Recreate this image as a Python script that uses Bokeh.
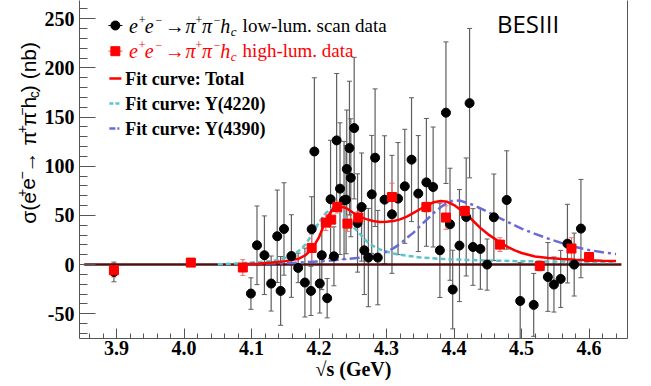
from math import pi
from bokeh.plotting import figure
from bokeh.layouts import row
from bokeh.models import (ColumnDataSource, Whisker, TeeHead, FixedTicker, LinearAxis,
                          Range1d, Label, NumeralTickFormatter)
from bokeh.embed import file_html
from bokeh.resources import INLINE

# ---------------- data ----------------
# low-luminosity scan data  (sqrt(s) in GeV, sigma in nb, symmetric error in nb)
scan_E = [3.896, 4.099, 4.108, 4.119, 4.129, 4.138, 4.143, 4.148, 4.159, 4.169,
          4.179, 4.188, 4.189, 4.193, 4.201, 4.204, 4.212, 4.217, 4.222, 4.226,
          4.231, 4.237, 4.240, 4.241, 4.245, 4.247, 4.252, 4.257, 4.263, 4.267,
          4.273, 4.278, 4.283, 4.287, 4.297, 4.308, 4.317, 4.327, 4.337, 4.347,
          4.359, 4.369, 4.379, 4.388, 4.394, 4.398, 4.408, 4.418, 4.423, 4.428,
          4.439, 4.449, 4.459, 4.478, 4.498, 4.518, 4.539, 4.548, 4.558, 4.568,
          4.578, 4.588]
scan_sigma = [-7.5, -29.5, 19.6, 9.5, -19.3, 28.8, -26.8, 36.2, 8.7, -3.4,
              -18.3, -26.8, 36.0, 115.0, -19.3, 9.5, -34.2, 66.4, 8.4, 126.3,
              77.2, 65.3, 66.0, 97.2, 118.5, 88.3, 138.8, 42.3, 58.5, 14.5,
              7.1, 71.4, 108.7, 7.1, 66.0, 51.1, 67.1, 79.6, 106.7, 72.2,
              83.6, 78.9, 14.5, 154.5, 41.0, -25.4, 19.3, 48.4, 164.2, 17.9,
              15.9, 0.0, 48.1, 65.7, -37.0, -41.0, -12.6, -20.3, -14.6, 21.3,
              0.0, 36.6]
scan_err = [10, 16, 40, 40, 28, 47, 35, 47, 42, 15,
            35, 25, 33, 75, 30, 35, 20, 60, 30, 68,
            67, 60, 55, 60, 68, 60, 72, 50, 55, 45,
            50, 60, 70, 48, 65, 60, 57, 58, 63, 59,
            65, 61, 48, 72, 57, 40, 57, 60, 76, 39,
            41, 26, 44, 50, 39, 32, 35, 28, 29, 40,
            32, 50]

# high-luminosity data
hl_E = [3.896, 4.010, 4.087, 4.189, 4.210, 4.218, 4.227, 4.242, 4.258, 4.308,
        4.359, 4.388, 4.416, 4.468, 4.527, 4.574, 4.600]
hl_sigma = [-5.8, 2.0, -3.0, 16.9, 42.7, 45.7, 58.5, 41.7, 47.8, 68.7,
            58.5, 47.8, 54.5, 20.3, -1.4, 16.3, 7.7]
hl_err = [7, 3, 8, 14, 8, 8, 6, 8, 6, 14, 5, 12, 5, 7, 5, 11, 3]

# fit curves
total_E = [4.09, 4.11, 4.13, 4.15, 4.17, 4.18, 4.19, 4.195, 4.20, 4.205, 4.21, 4.215,
           4.22, 4.225, 4.23, 4.24, 4.25, 4.26, 4.27, 4.28, 4.29, 4.30, 4.31, 4.32,
           4.33, 4.34, 4.35, 4.36, 4.37, 4.38, 4.39, 4.40, 4.41, 4.42, 4.43, 4.44,
           4.45, 4.46, 4.47, 4.48, 4.49, 4.50, 4.52, 4.54, 4.56, 4.58, 4.60, 4.62, 4.64]
total_sigma = [0.3, 0.8, 2.0, 3.5, 6.0, 9.5, 16.5, 22.0, 28.0, 36.5, 45.0, 51.0,
               56.0, 58.2, 59.2, 57.5, 53.0, 48.8, 46.2, 44.3, 43.4, 43.5, 44.2, 46.0,
               48.8, 52.5, 56.5, 60.5, 63.4, 64.6, 63.8, 60.5, 55.5, 50.1, 43.3, 36.6,
               31.0, 26.4, 21.8, 17.8, 14.5, 11.8, 8.2, 6.6, 5.7, 5.0, 4.4, 4.0, 3.7]

y4220_E = [4.05, 4.08, 4.10, 4.12, 4.13, 4.14, 4.15, 4.16, 4.17, 4.18,
           4.19, 4.20, 4.21, 4.22, 4.23, 4.24, 4.25, 4.26, 4.27, 4.28,
           4.29, 4.30, 4.31, 4.33, 4.35, 4.38, 4.42, 4.46, 4.50, 4.55,
           4.60, 4.64]
y4220_sigma = [0.3, 1.2, 2.0, 3.0, 3.6, 4.8, 6.8, 9.6, 14.0, 20.5,
               31.0, 43.0, 52.5, 57.5, 55.5, 47.5, 39.0, 31.5, 24.0, 19.0,
               15.5, 13.3, 11.3, 9.0, 7.2, 5.8, 4.7, 4.0, 3.4, 3.1,
               2.8, 2.6]

y4390_E = [4.09, 4.16, 4.21, 4.26, 4.29, 4.30, 4.31, 4.32, 4.33, 4.34, 4.35,
           4.36, 4.37, 4.38, 4.39, 4.40, 4.41, 4.42, 4.43, 4.44, 4.45, 4.46,
           4.47, 4.48, 4.49, 4.50, 4.52, 4.54, 4.56, 4.58, 4.60, 4.62, 4.64]
y4390_sigma = [0.6, 1.6, 3.7, 6.9, 10.5, 13.0, 16.5, 21.0, 27.0, 32.5, 39.5,
               46.0, 52.5, 58.2, 63.0, 65.3, 64.8, 62.5, 60.3, 56.8, 53.5, 50.0,
               46.5, 43.3, 39.8, 36.6, 31.2, 26.3, 21.8, 17.8, 14.8, 12.5, 10.7]

zero_range = [3.852, 4.648]

x_ticks = [3.9, 4.0, 4.1, 4.2, 4.3, 4.4, 4.5, 4.6]
y_ticks = [-50, 0, 50, 100, 150, 200, 250]

# ---------------- layout (page pixels) ----------------
W, H = 651, 386
SIDE = 41                                  # width of the y-title strip
FL, FR, FT, FB = 77, 627, 0, 338           # frame edges on the page
X0, X1 = 3.845, 4.657
Y0, Y1 = -75.2, 268.6


def dx(px):
    return X0 + (px - FL) * (X1 - X0) / (FR - FL)


def dy(py):
    return Y0 + (FB - py) * (Y1 - Y0) / (FB - FT)


p = figure(width=W - SIDE, height=H, output_backend="svg", toolbar_location=None,
           x_range=Range1d(X0, X1), y_range=Range1d(Y0, Y1),
           min_border_left=FL - SIDE, min_border_right=W - FR,
           min_border_top=FT, min_border_bottom=H - FB)
p.grid.visible = False
p.outline_line_color = None
p.background_fill_color = "white"
p.border_fill_color = "white"

AX = "#555555"
SERIF = "Liberation Serif"
AXFONT = "Times New Roman"
SANS = "Liberation Sans"

x_minor = [round(3.86 + 0.02 * i, 2) for i in range(40)]
y_minor = [-70 + 10 * i for i in range(35)]

p.xaxis.ticker = FixedTicker(ticks=x_ticks, minor_ticks=x_minor)
p.xaxis.formatter = NumeralTickFormatter(format="0.0")
p.yaxis.ticker = FixedTicker(ticks=y_ticks, minor_ticks=y_minor)
p.yaxis.formatter = NumeralTickFormatter(format="0")
for axs in (p.xaxis, p.yaxis):
    axs.axis_line_color = AX
    axs.major_tick_line_color = AX
    axs.minor_tick_line_color = AX
    axs.major_tick_out = 0
    axs.minor_tick_out = 0
    axs.major_label_text_font = AXFONT
    axs.major_label_text_font_style = "bold"
    axs.major_label_text_font_size = "20px"
    axs.major_label_text_color = "black"
p.xaxis.major_tick_in = 10
p.xaxis.minor_tick_in = 5
p.xaxis.major_label_standoff = 2
p.yaxis.major_tick_in = 16
p.yaxis.minor_tick_in = 8
p.yaxis.major_label_standoff = 5

p.xaxis.axis_label = "\u221as (GeV)"
p.xaxis.axis_label_text_font = AXFONT
p.xaxis.axis_label_text_font_style = "bold"
p.xaxis.axis_label_text_font_size = "20px"
p.xaxis.axis_label_text_color = "black"
p.xaxis.axis_label_standoff = 0

right = LinearAxis(ticker=FixedTicker(ticks=[]), axis_line_color=AX,
                   major_tick_line_color=None, minor_tick_line_color=None)
p.add_layout(right, "right")

# ---------------- data marks ----------------
scan_src = ColumnDataSource(dict(
    x=scan_E, y=scan_sigma,
    lo=[s - e for s, e in zip(scan_sigma, scan_err)],
    hi=[s + e for s, e in zip(scan_sigma, scan_err)]))
hl_src = ColumnDataSource(dict(
    x=hl_E, y=hl_sigma,
    lo=[s - e for s, e in zip(hl_sigma, hl_err)],
    hi=[s + e for s, e in zip(hl_sigma, hl_err)]))

BAR = "#5e5e5e"
p.add_layout(Whisker(source=scan_src, base="x", lower="lo", upper="hi",
                     line_color=BAR, line_width=1.2,
                     upper_head=TeeHead(size=5, line_color=BAR, line_width=1),
                     lower_head=TeeHead(size=5, line_color=BAR, line_width=1)))
REDBAR = "#f07272"
p.add_layout(Whisker(source=hl_src, base="x", lower="lo", upper="hi",
                     line_color=REDBAR, line_width=1.2,
                     upper_head=TeeHead(size=5, line_color=REDBAR, line_width=1),
                     lower_head=TeeHead(size=5, line_color=REDBAR, line_width=1)))

p.line(zero_range, [0, 0], line_color="#4e1010", line_width=2.5)

CYAN = "#5cc5cc"
BLUE = "#6a6ad6"
RED = "#ff0000"
p.line(y4220_E, y4220_sigma, line_color=CYAN, line_width=2.5, line_dash="5 3")
p.line(y4390_E, y4390_sigma, line_color=BLUE, line_width=2.5, line_dash="10 4 3 4")
p.line(total_E, total_sigma, line_color=RED, line_width=2.5)

p.scatter("x", "y", source=scan_src, marker="circle", size=9,
          fill_color="black", line_color="black")
p.scatter("x", "y", source=hl_src, marker="square", size=9,
          fill_color=RED, line_color=RED)

# ---------------- legend ----------------
p.segment([dx(106)], [dy(25)], [dx(120)], [dy(25)], line_color="black", line_width=1.2)
p.scatter([dx(113)], [dy(25)], marker="circle", size=9, color="black")
p.segment([dx(106)], [dy(50.7)], [dx(120)], [dy(50.7)], line_color=REDBAR, line_width=1.2)
p.scatter([dx(113)], [dy(50.7)], marker="square", size=9, color=RED)
p.line([dx(107), dx(119)], [dy(78), dy(78)], line_color=RED, line_width=2.5)
p.line([dx(107), dx(119)], [dy(103), dy(103)], line_color=CYAN, line_width=2.5, line_dash="4 2")
p.line([dx(107), dx(119)], [dy(128), dy(128)], line_color=BLUE, line_width=2.5, line_dash="6 2 2 2")

# empirical shift of the rendered baseline (fraction of the font size)
BASE_FIX = {SERIF: 0.3, SANS: 0.3, "Open Sans": 0.5}


def lab(px, py, text, size, color="black", font=SERIF, style="normal", align="left"):
    """text inside the frame; (px, py) is the wanted baseline point on the page"""
    py = py - BASE_FIX[font] * size
    p.add_layout(Label(x=dx(px), y=dy(py), text=text, text_font=font,
                       text_font_size=f"{size}px", text_font_style=style,
                       text_color=color, text_align=align,
                       text_baseline="alphabetic"))


# formula pieces: (x start, text, font size, baseline shift, italic?)
formula = [(126.7, "e", 20, 0, True), (136.5, "+", 12, -8, False),
           (142.5, "e", 20, 0, True), (153.3, "\u2212", 12, -8, False),
           (162.5, "\u2192", 20, 0, False), (183.3, "\u03c0", 20, 0, True),
           (193.3, "+", 12, -8, False), (200.0, "\u03c0", 20, 0, True),
           (211.7, "\u2212", 12, -8, False), (218.3, "h", 20, 0, True),
           (228.8, "c", 13, 4, True)]
for yb, col, tail in ((31, "black", "low-lum. scan data"), (56, RED, "high-lum. data")):
    for x0, t, fs, sh, it in formula:
        lab(x0, yb + sh, t, fs, col, style="italic" if it else "normal")
    lab(240.7, yb, tail, 19, col)

lab(123, 84, "Fit curve: Total", 18, style="bold")
lab(123, 109, "Fit curve: Y(4220)", 18, style="bold")
lab(123, 134, "Fit curve: Y(4390)", 18, style="bold")

lab(496, 35, "BESIII", 24, font="Open Sans")

# ---------------- y-axis title strip (data units == page pixels) ----------------
yt = figure(width=SIDE, height=H, output_backend="svg", toolbar_location=None,
            x_range=Range1d(0, SIDE), y_range=Range1d(H, 0),
            x_axis_location=None, y_axis_location=None, min_border=0)
yt.grid.visible = False
yt.outline_line_color = None
yt.background_fill_color = "white"
yt.border_fill_color = "white"

# (text, size px, shift towards glyph top, approx advance in em)
ytitle = [("\u03c3(e", 21, 0, 1.459), ("+", 14, 8, 0.584), ("e", 21, 0, 0.556),
          ("\u2212", 14, 8, 0.584), (" \u2192 \u03c0", 21, 0, 2.126),
          ("+", 14, 8, 0.584), ("\u03c0", 21, 0, 0.57), ("\u2212", 14, 8, 0.584),
          ("h", 21, 0, 0.556), ("c", 14, -4, 0.5), (")  (nb)", 21, 0, 2.667)]
ypos = 255.0
base_x = 34
for t, fs, sh, adv in ytitle:
    bx = base_x - sh - BASE_FIX[SANS] * fs
    yt.add_layout(Label(x=bx, y=ypos, text=t, text_font=SANS,
                        text_font_size=f"{fs}px", text_color="black",
                        text_align="left", text_baseline="alphabetic", angle=pi / 2))
    ypos -= adv * fs

layout = row(yt, p, spacing=0)
open("out.html", "w").write(file_html(layout, INLINE))
